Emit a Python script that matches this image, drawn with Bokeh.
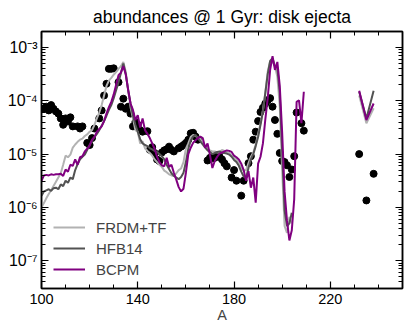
import numpy as np
from bokeh.plotting import figure
from bokeh.models import (LinearAxis, LogAxis, FixedTicker, CustomJSTickFormatter,
                          Legend, LegendItem, Range1d)
from bokeh.embed import file_html
from bokeh.resources import INLINE

# ---------------- data (log10 of abundance) ----------------
obs_A = [100, 101, 102, 103, 104, 105, 106, 107, 108, 109, 110, 111, 112, 113, 115, 116, 117,
         119, 120, 121, 122, 124, 125, 126, 127, 128, 129, 130, 132, 133, 134, 135, 136, 137, 138,
         139, 140, 141, 142, 144, 145, 146, 147, 148, 149, 150, 151, 152, 153, 154, 155, 157, 158,
         159, 160, 161, 162, 163, 164, 165, 169, 170, 171, 172, 173, 174, 175, 176, 177, 179, 180,
         181, 183, 184, 186, 187, 188, 189, 190, 191, 192, 193, 194, 195, 196, 197, 198, 199, 200,
         201, 202, 203, 204, 205, 206, 208, 209, 232, 235, 238]
obs_logY = [-4.15, -4.15, -4.11, -4.18, -4.08, -4.15, -4.20, -4.24, -4.33, -4.45, -4.33, -4.39,
            -4.31, -4.48, -4.48, -4.52, -4.48, -4.79, -4.83, -4.70, -4.52, -4.33, -4.18, -3.90,
            -3.68, -3.40, -3.40, -3.39, -3.65, -4.11, -3.96, -4.15, -4.11, -4.24, -4.48, -4.40,
            -4.45, -4.55, -4.58, -4.57, -4.92, -4.87, -4.98, -5.10, -5.13, -4.97, -4.93, -4.91,
            -4.86, -4.92, -4.95, -4.89, -4.86, -4.83, -4.79, -4.73, -4.61, -4.60, -4.67, -4.73,
            -5.12, -5.07, -5.08, -5.07, -5.04, -5.05, -5.10, -5.17, -5.23, -5.44, -5.30, -5.50,
            -5.78, -5.50, -5.17, -5.04, -4.73, -4.58, -4.38, -4.21, -4.13, -4.05, -3.99, -3.95,
            -4.11, -4.36, -4.62, -4.98, -5.13, -5.15, -5.21, -5.43, -5.29, -5.04, -4.22, -4.42,
            -4.56, -5.00, -5.87, -5.37]

frdm_A = list(range(100, 205))
frdm_logY = [-6.00, -5.92, -5.83, -5.75, -5.68, -5.60, -5.52, -5.44, -5.36, -5.20, -5.03, -5.06,
             -5.01, -4.88, -4.82, -4.77, -4.73, -4.71, -4.66, -4.63, -4.58, -4.55, -4.45, -4.33,
             -4.22, -4.08, -3.90, -3.72, -3.62, -3.57, -3.51, -3.46, -3.40, -3.35, -3.27, -3.45,
             -3.80, -4.12, -4.33, -4.55, -4.58, -4.80, -4.76, -4.89, -4.94, -4.98, -5.03, -5.10,
             -5.15, -5.20, -5.24, -5.31, -5.34, -5.38, -5.40, -5.41, -5.36, -5.30, -5.27, -5.15,
             -4.90, -4.80, -4.68, -4.64, -4.66, -4.69, -4.72, -4.79, -4.85, -4.90, -4.93, -4.95,
             -4.95, -4.97, -4.97, -4.92, -4.94, -4.96, -4.98, -5.03, -5.06, -5.10, -5.17, -5.27,
             -5.31, -5.30, -5.17, -5.05, -4.97, -4.82, -4.62, -4.42, -4.18, -3.85, -3.45, -3.26,
             -3.27, -3.35, -3.55, -4.10, -5.30, -6.35, -6.48, -6.18, -6.30]

hfb_A = list(range(100, 205))
hfb_logY = [-5.78, -5.70, -5.68, -5.66, -5.69, -5.64, -5.63, -5.66, -5.57, -5.60, -5.50, -5.54,
            -5.44, -5.47, -5.30, -5.19, -5.10, -5.05, -5.01, -4.92, -4.83, -4.75, -4.68, -4.62,
            -4.55, -4.47, -4.38, -4.28, -4.17, -4.08, -3.95, -3.80, -3.65, -3.48, -3.30, -3.50,
            -3.80, -4.05, -4.27, -4.45, -4.58, -4.72, -4.80, -4.83, -4.85, -4.89, -4.91, -4.94,
            -4.96, -5.00, -5.04, -5.10, -5.20, -5.28, -5.36, -5.41, -5.44, -5.47, -5.43, -5.35,
            -5.15, -4.90, -4.75, -4.67, -4.64, -4.70, -4.76, -4.82, -4.88, -4.93, -4.96, -5.00,
            -4.98, -4.96, -4.95, -4.98, -4.98, -4.99, -5.01, -5.05, -5.11, -5.15, -5.22, -5.33,
            -5.42, -5.45, -5.26, -5.10, -5.00, -4.85, -4.68, -4.45, -4.20, -3.85, -3.50, -3.25,
            -3.20, -3.35, -3.38, -3.85, -4.95, -6.05, -6.35, -6.30, -6.10]

bcpm_A = list(range(100, 210))
bcpm_logY = [-5.50, -5.40, -5.39, -5.40, -5.38, -5.39, -5.38, -5.38, -5.37, -5.41, -5.29, -5.33,
             -5.20, -5.22, -5.10, -5.20, -5.06, -5.04, -4.95, -4.90, -4.84, -4.73, -4.68, -4.58,
             -4.53, -4.48, -4.38, -4.24, -4.12, -4.02, -3.88, -3.70, -3.52, -3.47, -3.35, -3.50,
             -3.79, -4.05, -4.17, -4.36, -4.27, -4.50, -4.33, -4.55, -4.62, -4.70, -4.80, -4.90,
             -5.05, -5.15, -5.21, -5.23, -5.07, -5.24, -5.20, -5.35, -5.48, -5.62, -5.70, -5.65,
             -5.35, -5.00, -4.88, -4.79, -4.74, -4.70, -4.67, -4.70, -4.88, -4.80, -5.02, -5.26,
             -5.13, -5.05, -4.99, -4.97, -4.95, -4.93, -4.94, -4.96, -5.03, -5.06, -5.10, -5.18,
             -5.30, -5.50, -5.32, -5.63, -5.44, -5.91, -5.18, -5.05, -4.80, -4.35, -3.95, -3.42,
             -3.16, -3.42, -3.27, -3.72, -4.60, -5.70, -6.25, -6.62, -6.43, -5.85, -4.02, -3.99,
             -4.42, -3.83]

act_A = [232, 235, 238]
frdm_act_logY = [-3.90, -4.42, -4.14]
hfb_act_logY = [-3.83, -4.33, -3.81]
bcpm_act_logY = [-3.81, -4.36, -4.05]

x_ticks = [100, 140, 180, 220]
y_ticks_exp = [-7, -6, -5, -4, -3]

# ---------------- figure ----------------
FONT = "Liberation Sans"
C_FRDM = "#b2b2b2"
C_HFB = "#525252"
C_BCPM = "#800080"

p = figure(width=404, height=325, y_axis_type="log",
           x_range=Range1d(100, 250), y_range=Range1d(3e-8, 2e-3),
           output_backend="svg", toolbar_location=None,
           title="abundances @ 1 Gyr: disk ejecta")
p.min_border_left = 41
p.min_border_right = 2
p.min_border_top = 0
p.min_border_bottom = 35
p.background_fill_color = "white"
p.border_fill_color = "white"
p.xgrid.grid_line_color = None
p.ygrid.grid_line_color = None
p.outline_line_color = "black"
p.outline_line_width = 1.5

p.title.text_font = FONT
p.title.text_font_size = "17.5px"
p.title.text_font_style = "normal"
p.title.align = "center"
p.title.text_color = "black"
p.title.standoff = 9

def pw(v):
    return np.power(10.0, np.array(v, dtype=float))

p.scatter(obs_A, pw(obs_logY), size=7, color="black")
r1 = p.line(frdm_A, pw(frdm_logY), line_color=C_FRDM, line_width=2)
p.line(act_A, pw(frdm_act_logY), line_color=C_FRDM, line_width=2)
r2 = p.line(hfb_A, pw(hfb_logY), line_color=C_HFB, line_width=2)
p.line(act_A, pw(hfb_act_logY), line_color=C_HFB, line_width=2)
r3 = p.line(bcpm_A, pw(bcpm_logY), line_color=C_BCPM, line_width=2)
p.line(act_A, pw(bcpm_act_logY), line_color=C_BCPM, line_width=2)

xminor = [v for v in range(100, 251, 10) if v not in x_ticks]
y_major = [10.0 ** e for e in y_ticks_exp]
y_minor = [m * 10.0 ** e for e in range(-8, -2) for m in range(2, 10)]

sup_js = """
const sup = {'-':'\u207b','0':'\u2070','1':'\u00b9','2':'\u00b2','3':'\u00b3','4':'\u2074',
             '5':'\u2075','6':'\u2076','7':'\u2077','8':'\u2078','9':'\u2079'};
const e = Math.round(Math.log10(tick)).toString();
let s = '';
for (const ch of e) { s += sup[ch]; }
return '10' + s;
"""

def style_axis(ax, size="15px"):
    ax.axis_line_color = "black"
    ax.axis_line_width = 1.5
    ax.major_tick_in = 7
    ax.major_tick_out = 0
    ax.minor_tick_in = 4
    ax.minor_tick_out = 0
    ax.major_tick_line_color = "black"
    ax.minor_tick_line_color = "black"
    ax.major_tick_line_width = 1.2
    ax.minor_tick_line_width = 1
    ax.major_label_text_font = FONT
    ax.major_label_text_font_size = size
    ax.major_label_text_color = "black"
    ax.major_label_standoff = 4

xb = p.xaxis[0]
xb.ticker = FixedTicker(ticks=x_ticks, minor_ticks=xminor)
style_axis(xb, size="14.5px")
xb.major_label_standoff = 5
xb.axis_label = "A"
xb.axis_label_text_font = FONT
xb.axis_label_text_font_size = "14.5px"
xb.axis_label_text_font_style = "normal"
xb.axis_label_standoff = 0

yl = p.yaxis[0]
yl.ticker = FixedTicker(ticks=y_major, minor_ticks=y_minor)
yl.formatter = CustomJSTickFormatter(code=sup_js)
style_axis(yl, size="16px")

# tick-only axes on top and right (no labels)
xt = LinearAxis(ticker=FixedTicker(ticks=x_ticks, minor_ticks=xminor))
style_axis(xt)
xt.major_label_standoff = 0
xt.formatter = CustomJSTickFormatter(code="return '';")
p.add_layout(xt, "above")

yr = LogAxis(ticker=FixedTicker(ticks=y_major, minor_ticks=y_minor))
style_axis(yr)
yr.major_label_standoff = 0
yr.formatter = CustomJSTickFormatter(code="return '';")
p.add_layout(yr, "right")

legend = Legend(items=[LegendItem(label="FRDM+TF", renderers=[r1]),
                       LegendItem(label="HFB14", renderers=[r2]),
                       LegendItem(label="BCPM", renderers=[r3])],
                location=(12, 9), border_line_color=None, background_fill_alpha=0,
                label_text_font=FONT, label_text_font_size="15px",
                glyph_width=32, glyph_height=20, label_height=20, spacing=1,
                padding=0, margin=0, label_standoff=11)
p.add_layout(legend)

open("out.html", "w").write(file_html(p, INLINE))
